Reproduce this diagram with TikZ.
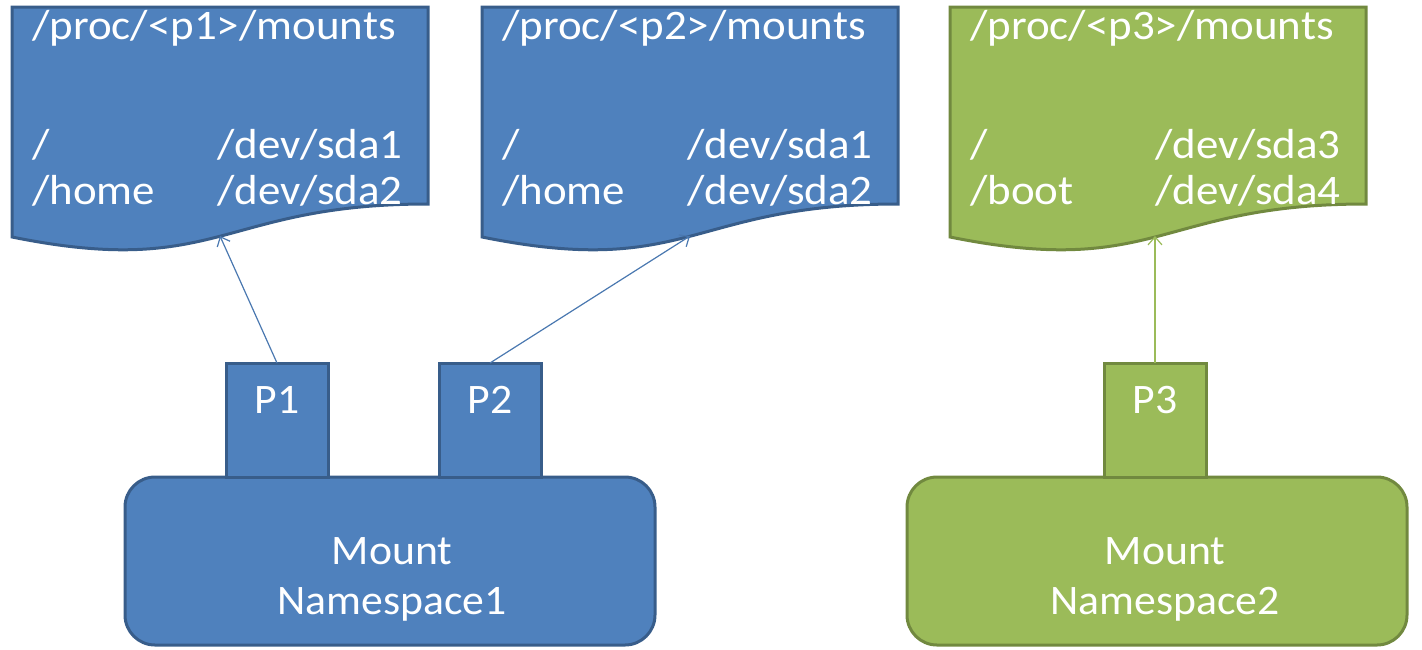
\documentclass[tikz,border=0pt]{standalone}
\usepackage{fontspec}
\setmainfont{Carlito}
\newfontfamily\docfont[FakeStretch=1.07]{Carlito}
\newfontfamily\nsfont[FakeStretch=1.04]{Carlito}
\usetikzlibrary{arrows.meta,positioning}
\definecolor{nsblue}{HTML}{4F81BD}
\definecolor{nsbluedark}{HTML}{385D8A}
\definecolor{nsgreen}{HTML}{9BBB59}
\definecolor{nsgreendark}{HTML}{71893F}
\definecolor{linkblue}{HTML}{4A78B0}

\begin{document}
\begin{tikzpicture}[x=1pt,y=-1pt,>={Straight Barb[length=8pt,width=14pt]}]
\tikzstyle{blueshape}=[fill=nsblue,draw=nsbluedark,line width=3pt,outer sep=0pt]
\tikzstyle{greenshape}=[fill=nsgreen,draw=nsgreendark,line width=3pt,outer sep=0pt]
\tikzstyle{nsbox}=[rectangle,rounded corners=30pt,minimum height=168pt]
\tikzstyle{pbox}=[rectangle,minimum width=102pt,minimum height=114pt,text=white,font=\nsfont\fontsize{42}{50}\selectfont,text height=26pt,text depth=40pt]
\tikzstyle{nstext}=[text=white,align=center,inner sep=0pt,font=\nsfont\fontsize{42}{50}\selectfont]
\tikzstyle{doctext}=[text=white,inner sep=0pt,anchor=base west,font=\docfont\fontsize{42}{46}\selectfont]
\tikzstyle{link}=[->,line width=1.2pt]
\useasboundingbox (0,0) rectangle (1422,649);
% mounts files
\path[blueshape] (12,7) -- (428,7) -- (428,204) .. controls (220,204) and (220,279) .. (12,237) -- cycle;
\path[blueshape] (482,7) -- (898,7) -- (898,204) .. controls (690,204) and (690,279) .. (482,237) -- cycle;
\path[greenshape] (950,7) -- (1366,7) -- (1366,204) .. controls (1158,204) and (1158,279) .. (950,237) -- cycle;
\coordinate (d1-wave) at (220,236);
\coordinate (d2-wave) at (690,236);
\coordinate (d3-wave) at (1158,236);
\node[doctext] (d1-text) at (32,39) {\begin{tabular}[t]{@{}p{185pt}@{}l@{}}\multicolumn{2}{@{}l@{}}{/proc/<p1>/mounts}\\[73pt] / & /dev/sda1\\ /home & /dev/sda2\end{tabular}};
\node[doctext] (d2-text) at (502,39) {\begin{tabular}[t]{@{}p{185pt}@{}l@{}}\multicolumn{2}{@{}l@{}}{/proc/<p2>/mounts}\\[73pt] / & /dev/sda1\\ /home & /dev/sda2\end{tabular}};
\node[doctext] (d3-text) at (970,39) {\begin{tabular}[t]{@{}p{185pt}@{}l@{}}\multicolumn{2}{@{}l@{}}{/proc/<p3>/mounts}\\[73pt] / & /dev/sda3\\ /boot & /dev/sda4\end{tabular}};
% namespaces
\node[nsbox,blueshape,minimum width=530pt] (ns1) at (390,561) {};
\node[nsbox,greenshape,minimum width=500pt] (ns2) at (1157,561) {};
\node[nstext,below=60pt of ns1.north,xshift=2pt] (ns1-text) {Mount\\Namespace1};
\node[nstext,below=60pt of ns2.north,xshift=8pt] (ns2-text) {Mount\\Namespace2};
% processes
\node[pbox,blueshape,above=0pt of ns1.north,xshift=-113pt] (p1) {P1};
\node[pbox,blueshape,above=0pt of ns1.north,xshift=100pt] (p2) {P2};
\node[pbox,greenshape,above=0pt of ns2.north,xshift=-2pt] (p3) {P3};
\draw[link,linkblue] (p1.north) -- (d1-wave);
\draw[link,linkblue] (p2.north) -- (d2-wave);
\draw[link,nsgreen] (p3.north) -- (p3.north |- d3-wave);
\end{tikzpicture}
\end{document}
